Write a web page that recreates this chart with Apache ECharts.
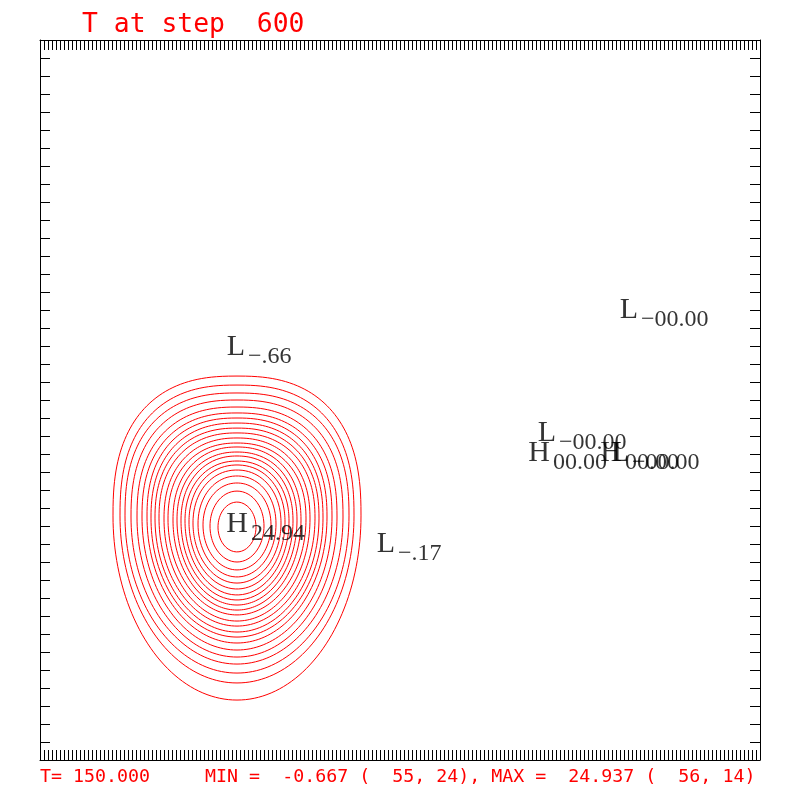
<!DOCTYPE html>
<html><head><meta charset="utf-8">
<script src="https://cdn.jsdelivr.net/npm/echarts@6/dist/echarts.min.js"></script>
<style>html,body{margin:0;padding:0;background:#fff}#c{width:800px;height:800px}</style>
</head><body><div id="c"></div>
<script>
// Grid units: x 0..180, y 0..40
const contourLevels = [1,2,3,4,5,6,7,8,9,10,11,12,13,14,15,16,17,18,19,20,21,22];
const ringLeft   = [18.25,20,21.25,22.75,24.25,25.5,26.75,27.75,28.75,29.75,31,32,33.25,34.25,35.25,36.25,37.25,38.25,39.5,40.75,42.5,44.5];
const ringRight  = [80.25,78.5,77.25,75.75,74.25,73,71.75,70.75,69.75,68.75,67.5,66.5,65.25,64.25,63.25,62.25,61.25,60.25,59,57.75,56,54];
const ringTop    = [21.33,20.83,20.39,20.0,19.61,19.28,19.0,18.72,18.44,18.17,17.89,17.61,17.39,17.11,16.89,16.61,16.39,16.11,15.78,15.39,14.94,14.33];
const ringBottom = [3.33,4.28,4.83,5.33,5.72,6.11,6.5,6.83,7.11,7.44,7.72,8.06,8.33,8.61,8.89,9.17,9.5,9.83,10.17,10.56,11.0,11.56];
const ringMid    = [13.56,13.56,13.56,13.5,13.5,13.5,13.5,13.44,13.44,13.44,13.39,13.39,13.33,13.33,13.28,13.28,13.22,13.17,13.11,13.06,13.0,12.94];

const extremaLetter = ['L','H','L','L','L','H','H','L'];
const extremaX      = [49, 49.25, 86.5, 147.25, 126.75, 124.75, 142.75, 145];
const extremaY      = [22.94, 13.11, 12.0, 25.0, 18.17, 17.06, 17.06, 17.06];
const extremaValue  = ['\u2212.66','24.94','\u2212.17','\u221200.00','\u221200.00','00.00','00.00','\u221200.00'];

const titleText  = 'T at step  600';
const footerText = 'T= 150.000     MIN =  -0.667 (  55, 24), MAX =  24.937 (  56, 14)';

function ringPoints(i) {
  const n = contourLevels.length;
  const cx = (ringLeft[i] + ringRight[i]) / 2;
  const pUp = 2.5 - 0.5 * i / (n - 1);   // dome shape of the upper half
  const pDn = 2.0;
  const pts = [];
  const N = 180;
  for (let k = 0; k <= N; k++) {
    const t = 2 * Math.PI * k / N;
    const c = Math.cos(t), s = Math.sin(t);
    const p = s >= 0 ? pUp : pDn;
    const ce = Math.sign(c) * Math.pow(Math.abs(c), 2 / p);
    const se = Math.sign(s) * Math.pow(Math.abs(s), 2 / p);
    const rx = c >= 0 ? ringRight[i] - cx : cx - ringLeft[i];
    const ry = s >= 0 ? ringTop[i] - ringMid[i] : ringMid[i] - ringBottom[i];
    pts.push([cx + rx * ce, ringMid[i] + ry * se]);
  }
  return pts;
}

const series = contourLevels.map((lv, i) => ({
  name: 'T=' + lv,
  type: 'line',
  data: ringPoints(i),
  showSymbol: false,
  symbol: 'none',
  smooth: false,
  silent: true,
  lineStyle: { color: '#ff0000', width: 1 },
  z: 2
}));

const pts = extremaX.map((x, i) => [x, extremaY[i], extremaLetter[i], extremaValue[i]]);
series.push({
  type: 'scatter', data: pts, symbolSize: 1, itemStyle: { color: 'rgba(0,0,0,0)' }, silent: true, z: 5,
  label: { show: true, position: 'inside', formatter: p => p.data[2], color: '#000000',
    fontFamily: 'Liberation Serif', fontSize: 30, align: 'center', verticalAlign: 'middle' }
});
series.push({
  type: 'scatter', data: pts.map(d => ({ value: d, label: { offset: [d[2] === 'H' ? 14 : 12, 10] } })),
  symbolSize: 1, itemStyle: { color: 'rgba(0,0,0,0)' }, silent: true, z: 5,
  label: { show: true, position: 'inside', formatter: p => p.value[3], color: '#000000',
    fontFamily: 'Liberation Serif', fontSize: 24, align: 'left', verticalAlign: 'middle' }
});

function axisCommon(extra) {
  return Object.assign({
    type: 'value',
    axisLine: { show: true, onZero: false, lineStyle: { color: '#000', width: 1 } },
    axisTick: { show: true, inside: true, length: 10, lineStyle: { color: '#000', width: 1 } },
    axisLabel: { show: false },
    splitLine: { show: false }
  }, extra);
}

const chart = echarts.init(document.getElementById('c'), null, { renderer: 'canvas' });
chart.setOption({
  animation: false,
  backgroundColor: '#fff',
  grid: { left: 40, right: 40, top: 40, bottom: 40 },
  xAxis: [
    axisCommon({ min: 0, max: 180, interval: 1, position: 'bottom' }),
    axisCommon({ min: 0, max: 180, interval: 1, position: 'top' })
  ],
  yAxis: [
    axisCommon({ min: 0, max: 40, interval: 1, position: 'left' }),
    axisCommon({ min: 0, max: 40, interval: 1, position: 'right' })
  ],
  graphic: [
    { type: 'text', left: 82, top: 12, style: { text: titleText, font: '26.4px "DejaVu Sans Mono"', fill: '#ff0000' } },
    { type: 'text', left: 40, top: 768, style: { text: footerText, font: '18.3px "DejaVu Sans Mono"', fill: '#ff0000' } }
  ],
  series: series
});
</script>
</body></html>
